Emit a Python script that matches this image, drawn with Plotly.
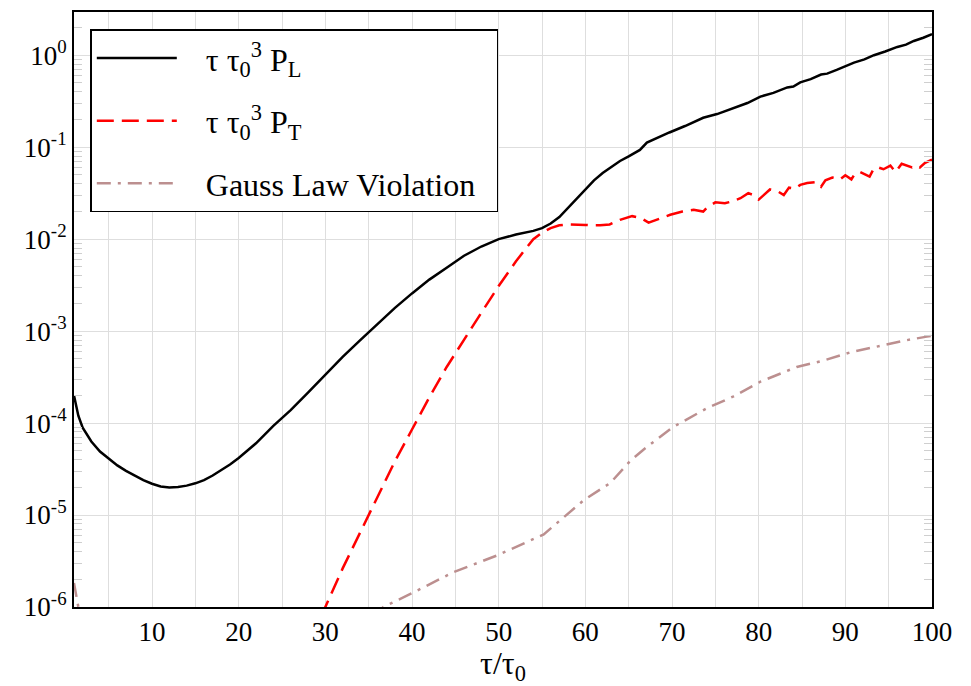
import numpy as np
import plotly.graph_objects as go

# tau/tau0 values and log10 of the quantities
pl_x = [1, 1.5, 2, 3, 4, 5, 6, 7, 8, 9, 10, 11, 12, 13, 14, 15, 16, 17, 18, 19, 20,
        22, 24, 26, 28, 30, 32, 34, 36, 38, 40, 42, 44, 46, 48, 50, 52, 54, 55, 56,
        57, 58, 59, 60, 61, 62, 63, 64, 65, 65.6, 66.3, 67.1, 68, 69.7, 71.5, 73.6,
        75.2, 77, 78.7, 80.2, 81.7, 83.3, 84, 84.8, 86, 87.2, 87.9, 89, 90.2, 91,
        92.2, 93.3, 94.6, 96, 97, 97.9, 99, 100]
pl_log = [-3.70, -3.92, -4.05, -4.20, -4.31, -4.39, -4.46, -4.52, -4.57, -4.62, -4.66,
          -4.69, -4.70, -4.695, -4.68, -4.655, -4.62, -4.57, -4.51, -4.45, -4.38,
          -4.22, -4.03, -3.86, -3.67, -3.47, -3.28, -3.10, -2.92, -2.75, -2.59, -2.44,
          -2.31, -2.18, -2.08, -2.00, -1.95, -1.91, -1.88, -1.83, -1.76, -1.66, -1.55,
          -1.45, -1.36, -1.28, -1.21, -1.15, -1.10, -1.07, -1.03, -0.95, -0.91, -0.84,
          -0.77, -0.68, -0.64, -0.58, -0.52, -0.45, -0.41, -0.35, -0.34, -0.295, -0.26,
          -0.21, -0.20, -0.16, -0.11, -0.08, -0.045, 0.0, 0.04, 0.09, 0.115, 0.155,
          0.19, 0.23]

pt_x = [29.5, 30, 32, 35, 38, 40, 42, 44, 46, 48, 50, 52, 54, 55, 56, 57, 58, 59, 60,
        61, 61.7, 62.8, 64, 65.4, 66.4, 67.3, 68.5, 69.8, 71.2, 72.5, 73.6, 74, 75,
        76.1, 76.9, 77.9, 78.8, 79.4, 80, 80.6, 81.3, 82.3, 82.9, 83.5, 84.2, 84.8,
        85.6, 86.7, 87.2, 87.7, 88.5, 89.4, 90, 90.7, 91.1, 91.7, 92.8, 93.3, 93.8,
        94.4, 95.2, 95.8, 96.5, 97.7, 98.2, 98.6, 99.2, 100]
pt_log = [-6.1, -6.0, -5.58, -5.0, -4.42, -4.07, -3.72, -3.39, -3.09, -2.80, -2.51,
          -2.24, -2.00, -1.93, -1.88, -1.85, -1.84, -1.84, -1.845, -1.85, -1.85, -1.84,
          -1.79, -1.75, -1.77, -1.82, -1.78, -1.735, -1.70, -1.68, -1.70, -1.66, -1.60,
          -1.61, -1.59, -1.555, -1.50, -1.52, -1.57, -1.52, -1.46, -1.485, -1.52,
          -1.44, -1.45, -1.41, -1.39, -1.38, -1.43, -1.36, -1.33, -1.35, -1.305,
          -1.35, -1.29, -1.27, -1.32, -1.23, -1.22, -1.24, -1.20, -1.27, -1.18, -1.22,
          -1.20, -1.22, -1.17, -1.135]

gv_x = [1, 1.5, 2, 2.5, None, 35.5, 36.7, 40, 44.8, 49.8, 55.2, 59.8, 62.9, 65.2,
        66.7, 70.0, 74.0, 77.1, 80.2, 84.4, 87.5, 90.6, 94.8, 97, 99.4, 100]
gv_log = [-5.74, -6.0, -6.2, -6.4, None, -6.1, -6.0, -5.85, -5.62, -5.44, -5.21, -4.84,
          -4.65, -4.41, -4.29, -4.05, -3.84, -3.71, -3.55, -3.39, -3.32, -3.23, -3.14,
          -3.10, -3.06, -3.05]


def to_val(logs):
    return [None if v is None else 10 ** v for v in logs]


decades = [-6, -5, -4, -3, -2, -1, 0]
ytick_vals = [10.0 ** d for d in decades]
ytick_text = ["10<sup>%d</sup>" % d for d in decades]
yminor_vals = [k * 10.0 ** d for d in decades for k in range(2, 10)]

FONT = "Liberation Serif"
GRID = "#dedede"
PAD = "\u00a0\u00a0\u00a0"

fig = go.Figure()
fig.add_trace(go.Scatter(x=pl_x, y=to_val(pl_log), mode="lines", legendgroup="a",
                         name=PAD + "τ τ<sub>0</sub><sup>3</sup> P<sub>L</sub>",
                         line=dict(color="black", width=2.5)))
fig.add_trace(go.Scatter(x=pt_x, y=to_val(pt_log), mode="lines", legendgroup="b",
                         name=PAD + "τ τ<sub>0</sub><sup>3</sup> P<sub>T</sub>",
                         line=dict(color="red", width=2.5, dash="17px,8px")))
fig.add_trace(go.Scatter(x=gv_x, y=to_val(gv_log), mode="lines", legendgroup="c",
                         name=PAD + "Gauss Law Violation\u00a0\u00a0", connectgaps=False,
                         line=dict(color="#bc8f8f", width=2.5, dash="14px,7px,3px,7px")))

fig.update_layout(
    width=971, height=686,
    margin=dict(l=74, r=39, t=10, b=75),
    paper_bgcolor="white", plot_bgcolor="white",
    font=dict(family=FONT, color="black", size=27),
    legend=dict(x=0.019, y=0.971, xanchor="left", yanchor="top",
                bordercolor="black", borderwidth=1.5, bgcolor="white",
                font=dict(size=32, family=FONT), itemwidth=80, tracegroupgap=18),
    xaxis=dict(range=[1, 100], tick0=0, dtick=10, ticks="", showgrid=True,
               gridcolor=GRID, gridwidth=1, zeroline=False,
               showline=True, linecolor="black", linewidth=2, mirror=True,
               tickfont=dict(size=27, family=FONT),
               minor=dict(dtick=5, tick0=0, showgrid=True, gridcolor=GRID, gridwidth=1),
               title=dict(text="τ/τ<sub>0</sub>", font=dict(size=32, family=FONT), standoff=6)),
    yaxis=dict(type="log", range=[-6, 0.47], tickmode="array", tickvals=ytick_vals,
               ticktext=ytick_text, ticks="", showgrid=True, gridcolor=GRID,
               gridwidth=1, zeroline=False, showline=True, linecolor="black",
               linewidth=2, mirror="ticks", tickfont=dict(size=27, family=FONT),
               minor=dict(tickmode="array", tickvals=yminor_vals, ticks="inside",
                          ticklen=8, tickcolor="#cfcfcf", tickwidth=1, showgrid=False)),
)

fig.write_html("out.html")
